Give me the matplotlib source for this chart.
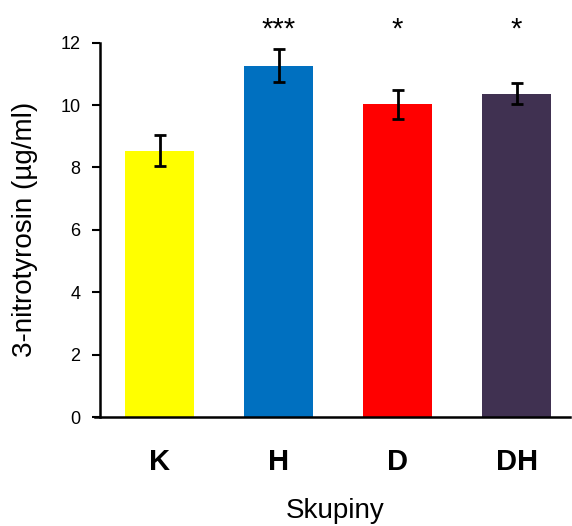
import matplotlib
matplotlib.use("Agg")
import matplotlib.pyplot as plt

plt.rcParams['font.family'] = ['Liberation Sans', 'DejaVu Sans']

groups = ['K', 'H', 'D', 'DH']
means = [8.54, 11.26, 10.02, 10.37]
errors = [0.50, 0.53, 0.46, 0.34]
stars = ['', '***', '*', '*']
colors = ['#FFFF00', '#0070C0', '#FF0000', '#403151']

fig = plt.figure(figsize=(5.72, 5.26), dpi=100)
ax = fig.add_axes([0.1748, 0.2072, 0.822, 0.7116])

x = range(len(groups))
ax.bar(x, means, width=0.585, color=colors, yerr=errors,
       error_kw=dict(ecolor='black', elinewidth=2, capsize=4, capthick=2))
for i, s in enumerate(stars):
    if s:
        ax.text(i, 12.42, s, ha='center', va='center', fontsize=21, clip_on=False)

ax.set_ylim(0, 12)
ax.set_xlim(-0.5, 3.45)
ax.set_yticks([0, 2, 4, 6, 8, 10, 12])
ax.set_xticks(list(x))
ax.set_xticklabels(groups, fontsize=21, fontweight='bold')
ax.tick_params(axis='x', length=0, pad=22)
ax.tick_params(axis='y', direction='out', length=6, width=1.5, labelsize=13, pad=8)

for side in ['top', 'right']:
    ax.spines[side].set_visible(False)
ax.spines['left'].set_linewidth(1.8)
ax.spines['bottom'].set_linewidth(1.8)
ax.spines['bottom'].set_bounds(-0.54, 3.45)

ax.set_xlabel('Skupiny', fontsize=20, labelpad=16)
ax.set_ylabel('3-nitrotyrosin (µg/ml)', fontsize=20, labelpad=16)

fig.savefig('out.png', dpi=100)
